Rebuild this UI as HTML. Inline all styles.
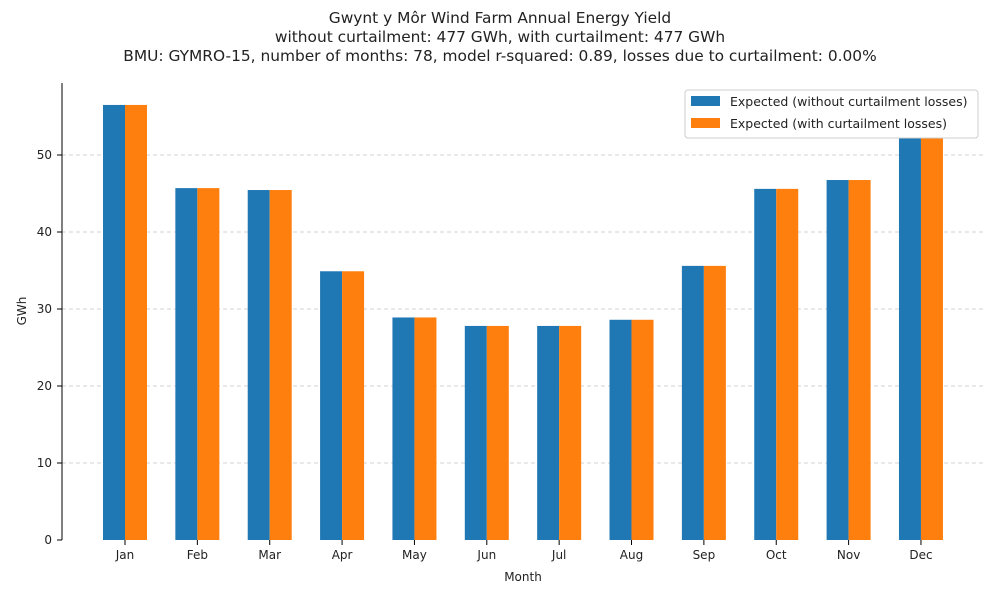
<!DOCTYPE html>
<html><head><meta charset="utf-8"><style>
body{margin:0;background:#fff;font-family:"DejaVu Sans","Liberation Sans",sans-serif}
svg text{fill:#222}
</style></head><body>
<svg width="1000" height="600" xmlns="http://www.w3.org/2000/svg">
<g font-size="15.4" text-anchor="middle">
<text x="500" y="23">Gwynt y Môr Wind Farm Annual Energy Yield</text>
<text x="500" y="42">without curtailment: 477 GWh, with curtailment: 477 GWh</text>
<text x="500" y="61">BMU: GYMRO-15, number of months: 78, model r-squared: 0.89, losses due to curtailment: 0.00%</text>
</g>
<g id="grid"></g>
<g id="bars"></g>
<g id="axes"></g>
<g>
<rect x="685" y="90" width="293" height="48" rx="3" fill="#fff" stroke="#ccc"/>
<rect x="691" y="96" width="29" height="10" fill="#1f77b4"/>
<text x="730" y="106" font-size="12.5">Expected (without curtailment losses)</text>
<rect x="691" y="118" width="29" height="10" fill="#ff7f0e"/>
<text x="730" y="128" font-size="12.5">Expected (with curtailment losses)</text>
</g>
</svg>
<script>
const months=["Jan","Feb","Mar","Apr","May","Jun","Jul","Aug","Sep","Oct","Nov","Dec"];
const without=[56.5,45.7,45.45,34.9,28.9,27.8,27.8,28.6,35.6,45.6,46.75,54];
const withC=[56.5,45.7,45.45,34.9,28.9,27.8,27.8,28.6,35.6,45.6,46.75,54];
const yTicks=[0,10,20,30,40,50];
const NS="http://www.w3.org/2000/svg";
const y=v=>540-v*7.7;
const xc=i=>125+i*72.36;
function mk(t,a,p){const e=document.createElementNS(NS,t);for(const k in a)e.setAttribute(k,a[k]);p.appendChild(e);return e;}
const grid=document.getElementById('grid'),bars=document.getElementById('bars'),axes=document.getElementById('axes');
yTicks.forEach(v=>{
 if(v>0){const g=mk('line',{x1:62,x2:985,y1:y(v),y2:y(v),stroke:'#d3d3d3','stroke-width':0.9,'stroke-dasharray':'4,3'},grid);
 
 }
 const t=mk('line',{x1:57,x2:62,y1:y(v),y2:y(v),stroke:'#000'},axes);
 
 
 const l=mk('text',{x:52,y:y(v)+4,'font-size':12,'text-anchor':'end'},axes);l.textContent=v;
 
 
});
months.forEach((m,i)=>{
 const a=mk('rect',{x:xc(i)-22,y:y(without[i]),width:22,height:without[i]*7.7,fill:'#1f77b4'},bars);
 
 
 const b=mk('rect',{x:xc(i),y:y(withC[i]),width:22,height:withC[i]*7.7,fill:'#ff7f0e'},bars);
 
 
 const t=mk('line',{x1:xc(i),x2:xc(i),y1:540,y2:545,stroke:'#000'},axes);
 
 
 const l=mk('text',{x:xc(i),y:559,'font-size':12,'text-anchor':'middle'},axes);l.textContent=m;
 
 
});
const ya=mk('line',{x1:62,x2:62,y1:83,y2:540,stroke:'#000'},axes);


const yt=mk('text',{x:0,y:0,'font-size':12,'text-anchor':'middle',transform:'translate(26,311) rotate(-90)'},axes);yt.textContent='GWh';


const xt=mk('text',{x:523,y:581,'font-size':12,'text-anchor':'middle'},axes);xt.textContent='Month';


</script>
</body></html>
